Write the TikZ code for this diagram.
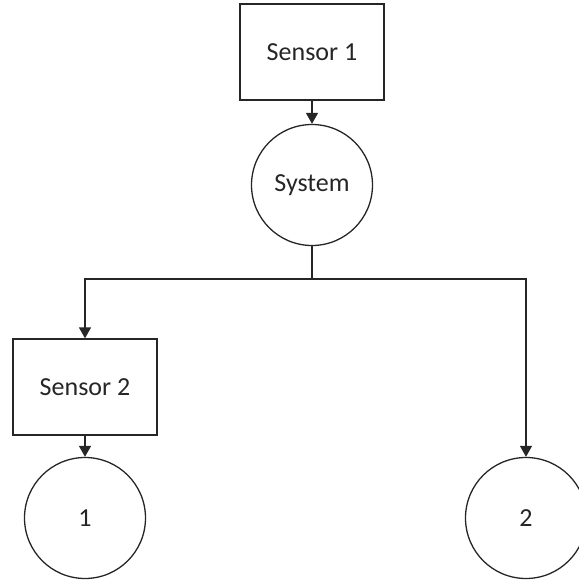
\documentclass[tikz,border=0pt]{standalone}
\usepackage{fontspec}
\setmainfont{Carlito}
\usetikzlibrary{arrows.meta}
\begin{document}
\begin{tikzpicture}[x=1pt,y=-1pt,
  every node/.style={font=\fontsize{26}{30}\selectfont, text=black!85, line width=1.3pt, draw=black!85},
  box/.style={rectangle, minimum width=144pt, minimum height=96pt, inner sep=0pt},
  ring/.style={circle, minimum size=121pt, inner sep=0pt},
  link/.style={line width=1.3pt, draw=black!85, -{Triangle[width=12pt,length=11pt]}},
  wire/.style={line width=1.3pt, draw=black!85}]
  \useasboundingbox (0,0) rectangle (579,582);
  % nodes
  \node[box]  (s1)  at (312,52)    {Sensor 1};
  \node[ring] (sys) at (312,185)   {System};
  \node[box]  (s2)  at (85,387)    {Sensor 2};
  \node[ring] (c1)  at (85,518)    {1};
  \node[ring] (c2)  at (526,518)   {2};
  \coordinate (j) at (312,279);
  % connectors
  \draw[link] (s1) -- (sys);
  \draw[wire] (sys) -- (j);
  \draw[link] (j) -| (s2.north);
  \draw[link] (j) -| (c2.north);
  \draw[link] (s2) -- (c1);
\end{tikzpicture}
\end{document}
